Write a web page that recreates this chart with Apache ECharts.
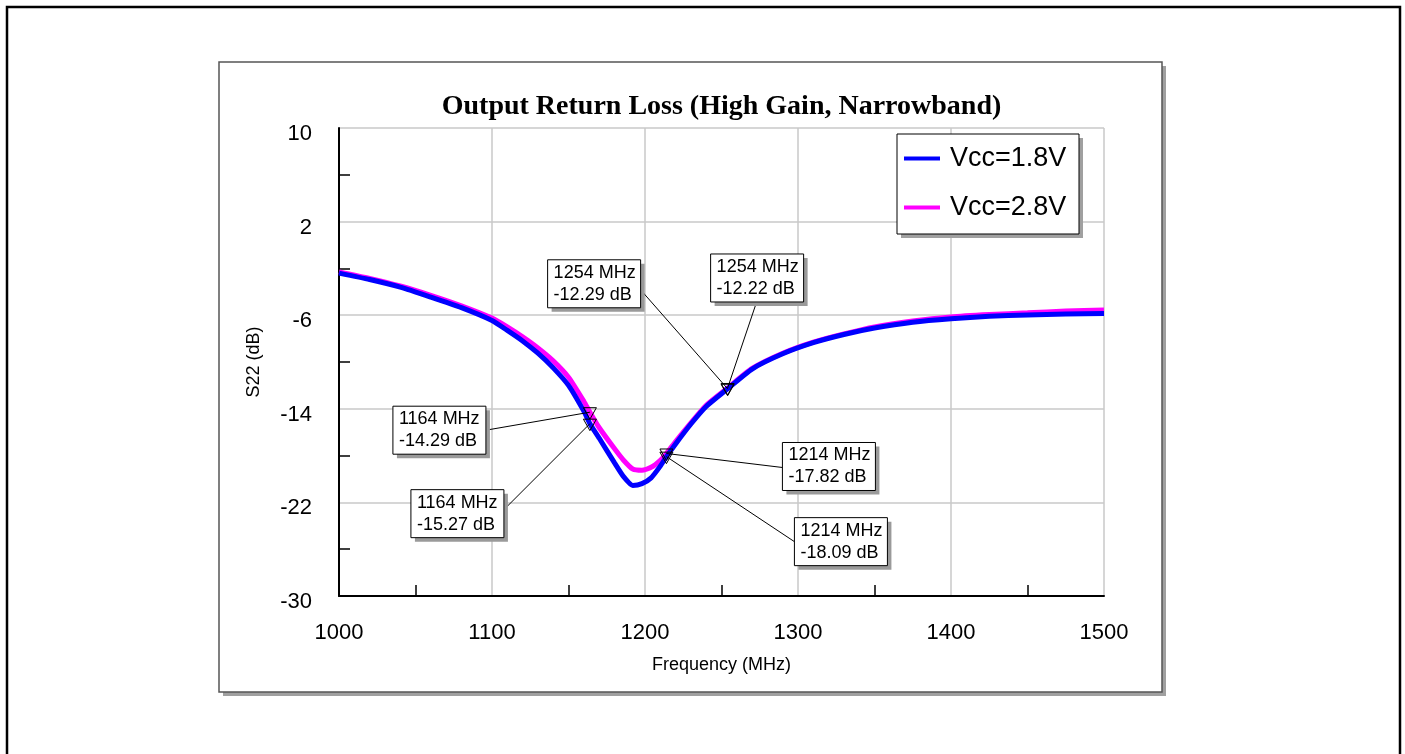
<!DOCTYPE html>
<html>
<head>
<meta charset="utf-8">
<title>Output Return Loss</title>
<script src="https://cdn.jsdelivr.net/npm/echarts@6/dist/echarts.min.js"></script>
<style>
  html, body { margin: 0; padding: 0; background: #fff; }
  #chart { width: 1405px; height: 754px; }
</style>
</head>
<body>
<div id="chart"></div>
<script>
// frequency points (MHz)
var freq = [1000, 1020, 1040, 1060, 1080, 1100, 1110, 1120, 1130, 1140, 1150, 1160, 1164, 1170, 1180, 1186,
            1192, 1198, 1204, 1210, 1214, 1220, 1230, 1240, 1254, 1270, 1290, 1310, 1330, 1350, 1375, 1400,
            1425, 1450, 1475, 1500];
// S22 (dB), Vcc=1.8V
var s22_18 = [-2.4, -2.95, -3.6, -4.45, -5.35, -6.45, -7.3, -8.2, -9.25, -10.5, -12.0, -14.2, -15.27, -16.5, -18.6, -19.8,
              -20.55, -20.4, -19.9, -18.9, -18.09, -17.0, -15.3, -13.8, -12.29, -10.6, -9.3, -8.35, -7.65, -7.1, -6.6, -6.3,
              -6.1, -5.98, -5.9, -5.85];
// S22 (dB), Vcc=2.8V
var s22_28 = [-2.3, -2.85, -3.5, -4.3, -5.2, -6.25, -7.0, -7.85, -8.8, -9.9, -11.3, -13.35, -14.29, -15.6, -17.4, -18.4,
              -19.15, -19.25, -19.0, -18.4, -17.82, -16.8, -15.2, -13.7, -12.22, -10.55, -9.25, -8.3, -7.6, -7.0, -6.5, -6.15,
              -5.95, -5.8, -5.65, -5.55];

// markers
var markerFreq = [1164, 1164, 1214, 1214, 1254, 1254];
var markerDb = [-15.27, -14.29, -17.82, -18.09, -12.29, -12.22];

var seriesNames = ['Vcc=1.8V', 'Vcc=2.8V'];

// callout box placement relative to the marker (pixels)
var calloutLayout = [
    {dx: -179, dy: 66, side: 'right', off: 20},
    {dx: -197, dy: -6, side: 'right', off: 24},
    {dx: 116, dy: -11, side: 'left', off: 25},
    {dx: 128, dy: 61, side: 'left', off: 24},
    {dx: -180, dy: -129, side: 'right', off: 30},
    {dx: -17, dy: -134, side: 'bottom', off: 46}
];

var FONT = '"Liberation Sans", Arial, sans-serif';

function pairs(xs, ys) {
    var out = [];
    for (var i = 0; i < xs.length; i++) out.push([xs[i], ys[i]]);
    return out;
}

var markerData = [];
for (var i = 0; i < markerFreq.length; i++) markerData.push([markerFreq[i], markerDb[i], i]);

function renderCallout(params, api) {
    var idx = api.value(2);
    var f = api.value(0), v = api.value(1);
    var pt = api.coord([f, v]);
    var L = calloutLayout[idx];
    var w = 93, h = 48;
    var bx = pt[0] + L.dx, by = pt[1] + L.dy;
    var a;
    if (L.side === 'right') a = [bx + w, by + L.off];
    else if (L.side === 'left') a = [bx, by + L.off];
    else a = [bx + L.off, by + h];
    var x = pt[0], y = pt[1];
    return {
        type: 'group',
        children: [
            {type: 'line', shape: {x1: a[0], y1: a[1], x2: x, y2: y}, style: {stroke: '#000', lineWidth: 1}},
            {type: 'rect', shape: {x: bx + 4, y: by + 4, width: w, height: h}, style: {fill: '#9a9a9a'}},
            {type: 'rect', shape: {x: bx, y: by, width: w, height: h}, style: {fill: '#fff', stroke: '#000', lineWidth: 1}},
            {type: 'text', x: bx + 6, y: by + 2, style: {
                text: f + ' MHz\n' + v.toFixed(2) + ' dB',
                fontFamily: FONT, fontSize: 18, lineHeight: 22, fill: '#000'
            }},
            {type: 'polygon', shape: {points: [[x - 6.5, y - 4.5], [x + 6.5, y - 4.5], [x, y + 7]]},
             style: {fill: 'none', stroke: '#000', lineWidth: 1}}
        ]
    };
}

var chart = echarts.init(document.getElementById('chart'), null, {renderer: 'canvas'});

var option = {
    backgroundColor: '#fff',
    animation: false,
    graphic: [
        {type: 'rect', z: 0, shape: {x: 7, y: 7, width: 1393, height: 800},
         style: {fill: 'none', stroke: '#000', lineWidth: 2.5}},
        {type: 'rect', z: 0, shape: {x: 223, y: 66, width: 943, height: 630}, style: {fill: '#a0a0a0'}},
        {type: 'rect', z: 0, shape: {x: 219, y: 62, width: 943, height: 630},
         style: {fill: '#fff', stroke: '#555', lineWidth: 1.5}},
        {type: 'text', z: 5, x: 721.5, y: 93, style: {
            text: 'Output Return Loss (High Gain, Narrowband)', textAlign: 'center',
            fontFamily: '"Liberation Serif", "Times New Roman", serif', fontWeight: 'bold', fontSize: 28, fill: '#000'
        }},
        {type: 'rect', z: 5, shape: {x: 901, y: 138, width: 182, height: 100}, style: {fill: '#a0a0a0'}},
        {type: 'rect', z: 5, shape: {x: 897, y: 134, width: 182, height: 100},
         style: {fill: '#fff', stroke: '#000', lineWidth: 1}}
    ],
    legend: {
        z: 10,
        orient: 'vertical',
        left: 897,
        top: 134,
        padding: [11, 13, 11, 7],
        itemGap: 22,
        itemWidth: 36,
        itemHeight: 4,
        icon: 'rect',
        data: seriesNames,
        textStyle: {fontFamily: FONT, fontSize: 27, color: '#000', padding: [0, 0, 0, 5]}
    },
    grid: {
        left: 339, top: 128, width: 765, height: 468,
        show: true, borderColor: '#222', borderWidth: 1.2, backgroundColor: 'transparent'
    },
    xAxis: {
        type: 'value',
        min: 1000, max: 1500, interval: 100,
        name: 'Frequency (MHz)',
        nameLocation: 'middle',
        nameGap: 60,
        nameTextStyle: {fontFamily: FONT, fontSize: 18, color: '#000'},
        axisLine: {onZero: false, lineStyle: {color: '#000', width: 2}},
        axisTick: {show: false, inside: true},
        minorTick: {show: true, splitNumber: 2, length: 11, lineStyle: {color: '#000', width: 1.5}},
        axisLabel: {fontFamily: FONT, fontSize: 22, color: '#000', margin: 26,
                    formatter: function (v) { return String(v); }},
        splitLine: {show: true, lineStyle: {color: '#c8c8c8', width: 1.5}}
    },
    yAxis: {
        type: 'value',
        min: -30, max: 10, interval: 8,
        name: 'S22 (dB)',
        nameLocation: 'middle',
        nameGap: 76,
        nameTextStyle: {fontFamily: FONT, fontSize: 18, color: '#000'},
        axisLine: {show: true, onZero: false, lineStyle: {color: '#000', width: 2}},
        axisTick: {show: false, inside: true},
        minorTick: {show: true, splitNumber: 2, length: 11, lineStyle: {color: '#000', width: 1.5}},
        axisLabel: {fontFamily: FONT, fontSize: 22, color: '#000', margin: 27,
                    verticalAlign: 'top', lineHeight: 12,
                    formatter: function (v) { return String(v); }},
        splitLine: {show: true, lineStyle: {color: '#c8c8c8', width: 1.5}}
    },
    series: [
        {
            name: seriesNames[1], type: 'line', data: pairs(freq, s22_28),
            showSymbol: false, symbol: 'none', z: 3, smooth: 0.2,
            itemStyle: {color: '#ff00ff'},
            lineStyle: {color: '#ff00ff', width: 5}
        },
        {
            name: seriesNames[0], type: 'line', data: pairs(freq, s22_18),
            showSymbol: false, symbol: 'none', z: 4, smooth: 0.2,
            itemStyle: {color: '#0000ff'},
            lineStyle: {color: '#0000ff', width: 5}
        },
        {
            type: 'custom', z: 6, clip: false, silent: true,
            data: markerData,
            renderItem: renderCallout
        }
    ]
};

chart.setOption(option);
</script>
</body>
</html>
